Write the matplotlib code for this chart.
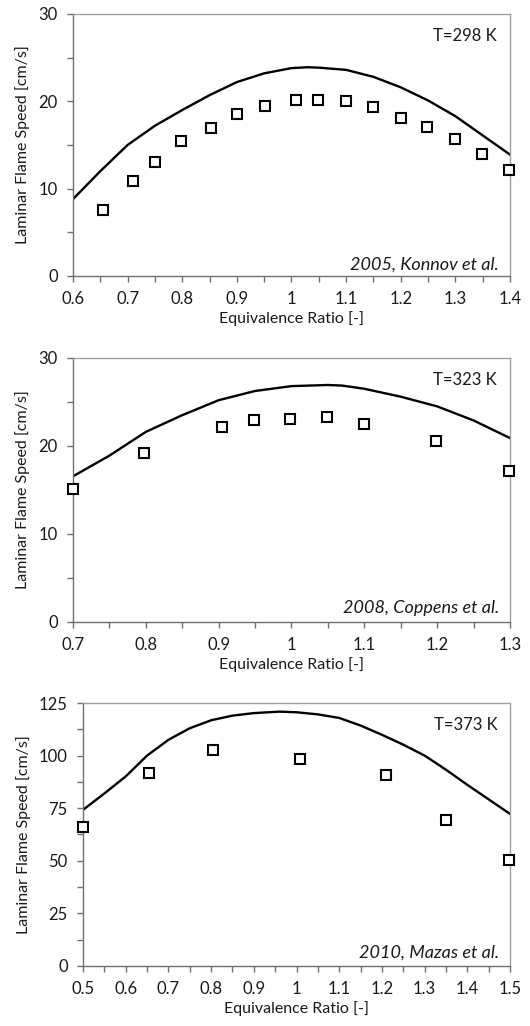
import matplotlib
matplotlib.use("Agg")
import matplotlib.pyplot as plt
from matplotlib.ticker import MultipleLocator, FormatStrFormatter

plt.rcParams['font.family'] = ['Lato', 'DejaVu Sans']
plt.rcParams['font.size'] = 11.5

# --- T=298 K, Konnov et al. 2005 ---
phi_exp_298 = [0.655, 0.71, 0.751, 0.798, 0.852, 0.90, 0.952, 1.009, 1.049, 1.10,
               1.15, 1.20, 1.249, 1.30, 1.348, 1.399]
su_exp_298 = [7.5, 10.9, 13.1, 15.4, 17.0, 18.5, 19.5, 20.15, 20.1, 20.0,
              19.3, 18.1, 17.1, 15.7, 14.0, 12.1]
phi_sim_298 = [0.60, 0.65, 0.70, 0.75, 0.80, 0.85, 0.90, 0.95, 1.00, 1.03,
               1.05, 1.10, 1.15, 1.20, 1.25, 1.30, 1.35, 1.40]
su_sim_298 = [8.8, 12.0, 15.0, 17.2, 19.0, 20.7, 22.2, 23.2, 23.8, 23.9,
              23.85, 23.6, 22.8, 21.6, 20.1, 18.3, 16.1, 13.9]

# --- T=323 K, Coppens et al. 2008 ---
phi_exp_323 = [0.70, 0.798, 0.904, 0.948, 0.998, 1.049, 1.099, 1.199, 1.299]
su_exp_323 = [15.15, 19.2, 22.2, 23.0, 23.1, 23.3, 22.5, 20.55, 17.15]
phi_sim_323 = [0.70, 0.75, 0.80, 0.85, 0.90, 0.95, 1.00, 1.05, 1.07, 1.10,
               1.15, 1.20, 1.25, 1.30]
su_sim_323 = [16.55, 18.9, 21.6, 23.5, 25.2, 26.25, 26.8, 26.93, 26.86, 26.5,
              25.6, 24.5, 22.9, 20.9]

# --- T=373 K, Mazas et al. 2010 ---
phi_exp_373 = [0.50, 0.655, 0.804, 1.009, 1.209, 1.349, 1.498]
su_exp_373 = [66.3, 91.5, 102.5, 98.5, 90.9, 69.3, 50.4]
phi_sim_373 = [0.50, 0.55, 0.60, 0.65, 0.70, 0.75, 0.80, 0.85, 0.90, 0.96,
               1.00, 1.05, 1.10, 1.15, 1.20, 1.25, 1.30, 1.35, 1.40, 1.45, 1.50]
su_sim_373 = [74.2, 82.0, 90.1, 100.0, 107.5, 113.0, 116.8, 119.0, 120.2, 120.9,
              120.6, 119.6, 117.9, 114.3, 109.9, 105.2, 100.0, 93.3, 86.1, 79.2, 72.3]

panels = [
    dict(rect=[0.1377, 0.731, 0.8245, 0.2554], xlim=(0.6, 1.4),
         ylim=(0, 30), ymaj=10, ymin=5,
         exp=(phi_exp_298, su_exp_298), sim=(phi_sim_298, su_sim_298),
         temp='T=298 K', ref='2005, Konnov et al.', ref_y=0.025),
    dict(rect=[0.1377, 0.3938, 0.8245, 0.2573], xlim=(0.7, 1.3),
         ylim=(0, 30), ymaj=10, ymin=5,
         exp=(phi_exp_323, su_exp_323), sim=(phi_sim_323, su_sim_323),
         temp='T=323 K', ref='2008, Coppens et al.', ref_y=0.034),
    dict(rect=[0.1566, 0.0585, 0.8057, 0.2563], xlim=(0.5, 1.5),
         ylim=(0, 125), ymaj=25, ymin=12.5,
         exp=(phi_exp_373, su_exp_373), sim=(phi_sim_373, su_sim_373),
         temp='T=373 K', ref='2010, Mazas et al.', ref_y=0.03),
]


def tick_label(v, pos):
    # Excel-style labels: 1 instead of 1.0
    s = f"{v:.1f}"
    return s[:-2] if s.endswith(".0") else s


fig = plt.figure(figsize=(5.30, 10.26), dpi=100)

for p in panels:
    ax = fig.add_axes(p['rect'])
    ax.plot(p['sim'][0], p['sim'][1], color='black', lw=1.7, zorder=2)
    ax.plot(p['exp'][0], p['exp'][1], linestyle='none', marker='s', ms=7,
            mfc='white', mec='black', mew=1.5, clip_on=False, zorder=3)

    ax.set_xlim(*p['xlim'])
    ax.set_ylim(*p['ylim'])
    ax.xaxis.set_major_locator(MultipleLocator(0.1))
    ax.xaxis.set_minor_locator(MultipleLocator(0.05))
    ax.yaxis.set_major_locator(MultipleLocator(p['ymaj']))
    ax.yaxis.set_minor_locator(MultipleLocator(p['ymin']))
    ax.xaxis.set_major_formatter(plt.FuncFormatter(tick_label))
    ax.yaxis.set_major_formatter(FormatStrFormatter('%d'))

    for side in ('left', 'bottom'):
        ax.spines[side].set_color('#707070')
        ax.spines[side].set_linewidth(1.0)
    for side in ('top', 'right'):
        ax.spines[side].set_color('#a0a0a0')
        ax.spines[side].set_linewidth(1.0)

    ax.tick_params(which='both', direction='out', color='#707070', width=1.0,
                   length=4, labelcolor='#1a1a1a', labelsize=12)
    ax.tick_params(axis='y', which='major', pad=7)
    ax.tick_params(axis='x', which='major', pad=7)

    ax.set_xlabel('Equivalence Ratio [-]', color='#1a1a1a', labelpad=3)
    ax.set_ylabel('Laminar Flame Speed [cm/s]', color='#1a1a1a', labelpad=6)

    ax.text(0.97, 0.897, p['temp'], transform=ax.transAxes, ha='right',
            va='baseline', fontsize=12, color='#1a1a1a')
    ax.text(0.975, p['ref_y'], p['ref'], transform=ax.transAxes, ha='right',
            va='baseline', style='italic', fontsize=13, color='#1a1a1a')

fig.savefig('out.png', dpi=100)
